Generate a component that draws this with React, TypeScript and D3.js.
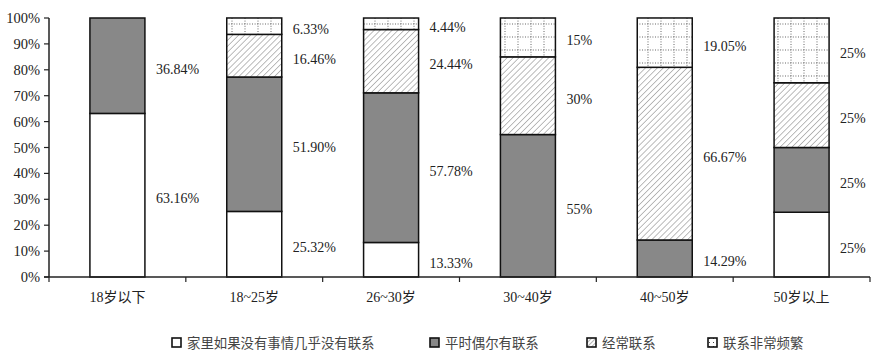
import React from "react";
import * as d3 from "d3";

const categories = ["18岁以下", "18~25岁", "26~30岁", "30~40岁", "40~50岁", "50岁以上"];
const noContact = [63.16, 25.32, 13.33, 0, 0, 25];
const occasional = [36.84, 51.9, 57.78, 55, 14.29, 25];
const often = [0, 16.46, 24.44, 30, 66.67, 25];
const frequent = [0, 6.33, 4.44, 15, 19.05, 25];
const seriesNames = ["家里如果没有事情几乎没有联系", "平时偶尔有联系", "经常联系", "联系非常频繁"];
const yTicks = [0, 10, 20, 30, 40, 50, 60, 70, 80, 90, 100];

const W = 890;
const H = 361;
const m = { left: 49, right: 20, top: 18, bottom: 84 };
const fills = ["#ffffff", "#888888", "url(#hatch)", "url(#dots)"];
const font = "'Liberation Serif', 'Times New Roman', 'Noto Sans CJK SC', serif";

const fmt = (v: number) => (Number.isInteger(v) ? `${v}%` : `${v.toFixed(2)}%`);

export default function App() {
  const series = [noContact, occasional, often, frequent];
  const x = d3.scaleBand().domain(categories).range([m.left, W - m.right]);
  const y = d3.scaleLinear().domain([0, 100]).range([H - m.bottom, m.top]);
  const barW = 55;

  const stack = d3
    .stack<number>()
    .keys([0, 1, 2, 3])
    .value((i, k) => series[k as number][i]);
  const stacked = stack(categories.map((_, i) => i));

  const legendX = [172, 430, 587, 708];

  return (
    <svg width={W} height={H} style={{ position: "absolute", left: 0, top: 0 }} fontFamily={font}>
      <defs>
        <pattern id="hatch" width="4.2" height="4.2" patternUnits="userSpaceOnUse" patternTransform="rotate(45)">
          <rect width="4.2" height="4.2" fill="#fff" />
          <line x1="0" y1="0" x2="0" y2="4.2" stroke="#7a7a7a" strokeWidth="1" />
        </pattern>
        <pattern id="dots" width="13" height="13" patternUnits="userSpaceOnUse" x="5" y="5">
          <rect width="13" height="13" fill="#fff" />
          <line x1="6" y1="0" x2="6" y2="13" stroke="#555" strokeWidth="0.9" strokeDasharray="1,1.6" />
          <line x1="0" y1="6" x2="13" y2="6" stroke="#555" strokeWidth="0.9" strokeDasharray="1,1.6" />
        </pattern>
        <pattern id="hatchS" width="3" height="3" patternUnits="userSpaceOnUse" patternTransform="rotate(45)">
          <rect width="3" height="3" fill="#fff" />
          <line x1="0" y1="0" x2="0" y2="3" stroke="#444" strokeWidth="0.8" />
        </pattern>
        <pattern id="dotsS" width="4" height="4" patternUnits="userSpaceOnUse">
          <rect width="4" height="4" fill="#fff" />
          <rect x="1" y="2" width="1" height="1" fill="#444" />
        </pattern>
      </defs>

      {stacked.map((layer, k) =>
        layer.map((d, i) => {
          const v = series[k][i];
          if (v <= 0) return null;
          const cx = (x(categories[i]) as number) + x.bandwidth() / 2;
          return (
            <g key={`${k}-${i}`}>
              <rect
                x={cx - barW / 2}
                y={y(d[1])}
                width={barW}
                height={y(d[0]) - y(d[1])}
                fill={fills[k]}
                stroke="#111"
                strokeWidth={1.5}
              />
              <text
                x={cx + barW / 2 + 11}
                y={(y(d[0]) + y(d[1])) / 2 + 8}
                fontSize={14}
                fill="#222"
              >
                {fmt(v)}
              </text>
            </g>
          );
        })
      )}

      {/* y axis */}
      <line x1={m.left} x2={m.left} y1={y(100)} y2={y(0)} stroke="#222" strokeWidth={1.5} />
      {yTicks.map((t) => (
        <g key={t}>
          <line x1={m.left - 5} x2={m.left} y1={y(t)} y2={y(t)} stroke="#222" strokeWidth={1.2} />
          <text x={m.left - 9} y={y(t) + 5} textAnchor="end" fontSize={14.5} fill="#222">
            {t}%
          </text>
        </g>
      ))}

      {/* x axis */}
      <line x1={m.left - 5} x2={W - m.right} y1={y(0)} y2={y(0)} stroke="#222" strokeWidth={1.5} />
      {categories.map((c, i) => {
        const bx = (x(c) as number) + x.bandwidth();
        return (
          <g key={c}>
            <line x1={bx} x2={bx} y1={y(0)} y2={y(0) + 5} stroke="#222" strokeWidth={1.2} />
            <text x={(x(c) as number) + x.bandwidth() / 2} y={y(0) + 25} textAnchor="middle" fontSize={14} fill="#222">
              {c}
            </text>
          </g>
        );
      })}
      <line x1={m.left} x2={m.left} y1={y(0)} y2={y(0) + 5} stroke="#222" strokeWidth={1.2} />

      {/* legend */}
      {seriesNames.map((n, k) => (
        <g key={n}>
          <rect
            x={legendX[k]}
            y={338}
            width={9}
            height={9}
            fill={k === 0 ? "#fff" : k === 1 ? "#888" : k === 2 ? "url(#hatchS)" : "url(#dotsS)"}
            stroke="#111"
            strokeWidth={1.6}
          />
          <text x={legendX[k] + 15} y={348} fontSize={13.4} fill="#444" fontFamily="'Noto Sans CJK SC', sans-serif">
            {n}
          </text>
        </g>
      ))}
    </svg>
  );
}
